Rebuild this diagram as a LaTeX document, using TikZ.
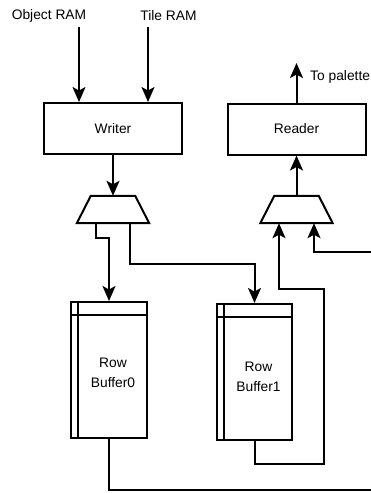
\documentclass[tikz,border=0pt]{standalone}
\usepackage{fontspec}
\setmainfont{Liberation Sans}
\usetikzlibrary{arrows.meta}
\begin{document}
\begin{tikzpicture}[x=1pt,y=-1pt,
  wire/.style={line width=2pt},
  feed/.style={wire,-{Stealth[length=15pt,width=13pt,inset=3.5pt]}},
  txt/.style={font=\fontsize{13.8}{20}\selectfont,inner sep=0pt,align=center},
  unit/.style={draw,line width=2pt,minimum width=138pt,minimum height=51pt,inner sep=0pt,txt},
  store/.style={draw,line width=2pt,minimum width=76pt,minimum height=136pt,inner sep=0pt},
  muxbox/.style={minimum width=72pt,minimum height=27pt,inner sep=0pt}]
\useasboundingbox (0,0) rectangle (371,493);

% inputs
\node[txt] (oram) at (49,16) {Object RAM};
\node[txt] (tram) at (168.5,16) {Tile RAM};
\coordinate (oin) at (79,27);
\coordinate (tin) at (148,27);

% writer and reader blocks
\node[unit] (writer) at (113,128.5) {Writer};
\node[unit] (reader) at (296.5,129) {Reader};

% multiplexers
\node[muxbox] (wm) at (113,209.5) {};
\node[muxbox] (rm) at (296.5,209.5) {};
\foreach \m in {wm,rm}{
  \draw[wire,line join=miter] (\m.south west) -- (\m.south east)
    -- ([xshift=-14pt]\m.north east) -- ([xshift=14pt]\m.north west) -- cycle;
}

% row buffers (internal storage)
\node[store] (rb0) at (109,370) {};
\node[store,minimum width=75pt] (rb1) at (254.5,372) {};
\foreach \b in {rb0,rb1}{
  \draw[wire] ([xshift=8pt]\b.north west) -- ([xshift=8pt]\b.south west);
  \draw[wire] ([yshift=-13.5pt]\b.north west) -- ([yshift=-13.5pt]\b.north east);
}
\node[txt] (rb0t) at (113,373) {Row\\Buffer0};
\node[txt] (rb1t) at (258.5,376.5) {Row\\Buffer1};

% output label
\coordinate (pal) at (296.5,63);
\node[txt,anchor=west] (topal) at (310,77) {To palette};

% connectors
\draw[feed] (oin) -- (oin |- writer.north);
\draw[feed] (tin) -- (tin |- writer.north);
\draw[feed] (writer.south) -- (wm.north);
\draw[feed] ([xshift=-17pt]wm.south) -- ++(0,15) -- ++(13,0) -- (rb0.north);
\draw[feed] ([xshift=17pt]wm.south) -- ++(0,41) -| (rb1.north);

\coordinate (loopB) at (324,464);
\coordinate (loopR) at (324,289);
\draw[feed] (rb1.south) -- (rb1.south |- loopB) -- (loopB) -- (loopR)
  -- ([xshift=-17.5pt]rm.south |- loopR) -- ([xshift=-17.5pt]rm.south);
\coordinate (inR) at (371,252);
\draw[feed] (inR) -| ([xshift=17.5pt]rm.south);
\coordinate (outR) at (371,490);
\draw[wire] (rb0.south) |- (outR);

\draw[feed] (rm.north) -- (reader.south);
\draw[feed] (reader.north) -- (pal);
\end{tikzpicture}
\end{document}
